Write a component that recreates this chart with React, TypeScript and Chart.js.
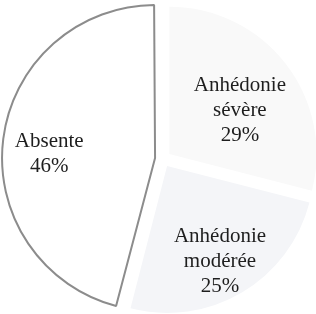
import React, { useEffect, useRef } from "react";
import { Chart, registerables } from "chart.js";

Chart.register(...registerables);

const categories = ["Anhédonie sévère", "Anhédonie modérée", "Absente"];
const labelLines = [["Anhédonie", "sévère", "29%"], ["Anhédonie", "modérée", "25%"], ["Absente", "46%"]];
const values = [29, 25, 46];

const sliceColors = ["#f9f9f9", "#f4f5f8", "#ffffff"];
const sliceBorders = ["rgba(0,0,0,0)", "rgba(0,0,0,0)", "#8c8c8c"];
const sliceBorderWidths = [0, 0, 2];
// label placement relative to each slice's (offset) vertex, in radius units
const labelShift = [
  [0.48, -0.30],
  [0.36, 0.65],
  [-0.72, -0.03],
];

const FONT = '21px "Liberation Serif", "Times New Roman", serif';

const labelPlugin = {
  id: "sliceLabels",
  afterDatasetsDraw(chart: any) {
    const ctx = chart.ctx;
    const meta = chart.getDatasetMeta(0);
    ctx.save();
    ctx.font = FONT;
    ctx.fillStyle = "#1e1e1e";
    ctx.textAlign = "center";
    ctx.textBaseline = "middle";
    meta.data.forEach((arc: any, i: number) => {
      const mid = (arc.startAngle + arc.endAngle) / 2;
      const t = (arc.options.offset || 0) / 4;
      const vx = arc.x + Math.cos(mid) * t;
      const vy = arc.y + Math.sin(mid) * t;
      const R = arc.outerRadius;
      const cx = vx + labelShift[i][0] * R;
      const cy = vy + labelShift[i][1] * R;
      const lines = labelLines[i];
      const lh = 25;
      lines.forEach((ln, j) => {
        ctx.fillText(ln, cx, cy + (j - (lines.length - 1) / 2) * lh);
      });
    });
    ctx.restore();
  },
};

export default function App() {
  const ref = useRef<HTMLCanvasElement | null>(null);
  useEffect(() => {
    if (!ref.current) return;
    const chart = new Chart(ref.current, {
      type: "pie",
      data: {
        labels: categories,
        datasets: [
          {
            data: values,
            backgroundColor: sliceColors,
            borderColor: sliceBorders,
            borderWidth: sliceBorderWidths,
            offset: 32,
          },
        ],
      },
      options: {
        animation: false,
        responsive: false,
        radius: 147,
        layout: { padding: { left: 10, top: 4, right: 0, bottom: 0 } },
        plugins: {
          legend: { display: false },
          tooltip: { enabled: false },
        },
      },
      plugins: [labelPlugin],
    });
    return () => chart.destroy();
  }, []);
  return (
    <div style={{ position: "fixed", left: 0, top: 0, width: 316, height: 314, background: "#ffffff" }}>
      <canvas ref={ref} width={316} height={314} style={{ width: 316, height: 314, display: "block" }} />
    </div>
  );
}
